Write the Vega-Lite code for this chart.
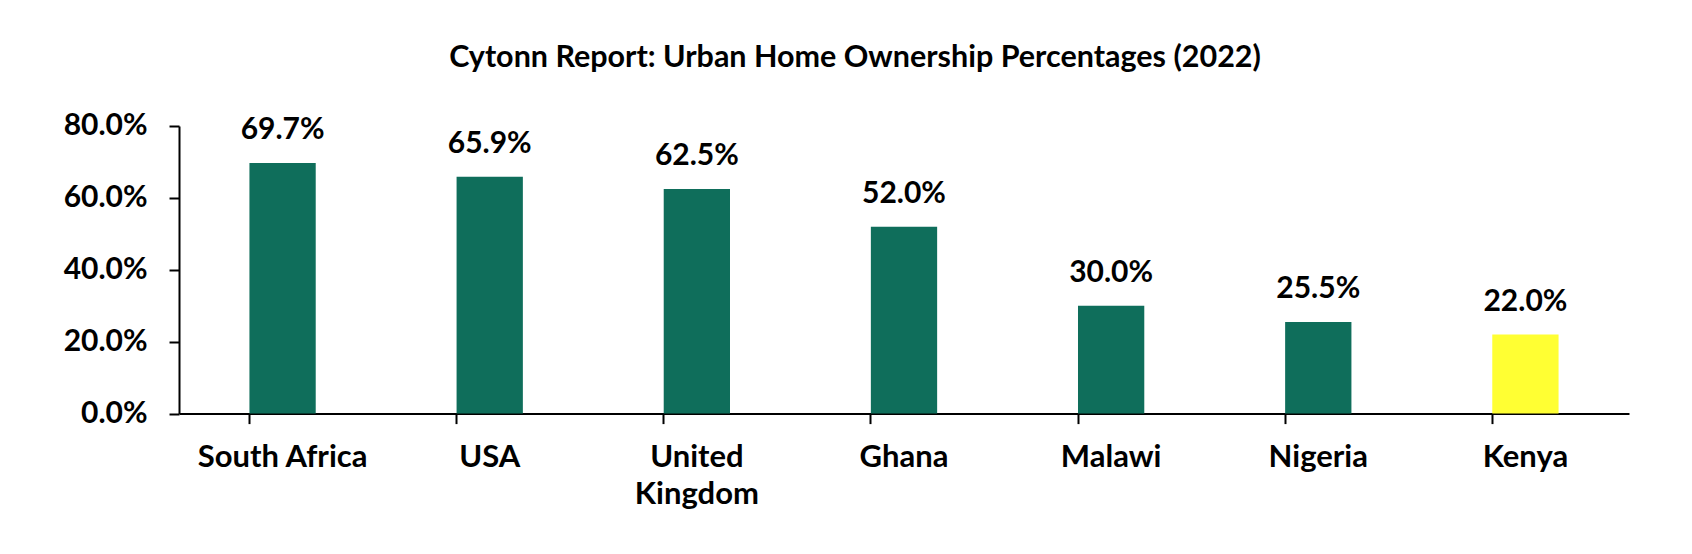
{
  "$schema": "https://vega.github.io/schema/vega-lite/v6.json",
  "width": 1450,
  "height": 287.6,
  "autosize": {"type": "none"},
  "padding": {"left": 179, "top": 126, "right": 63, "bottom": 140},
  "background": "white",
  "title": {
    "text": "Cytonn Report: Urban Home Ownership Percentages (2022)",
    "font": "Lato",
    "fontSize": 30.5,
    "fontWeight": "bold",
    "color": "black",
    "anchor": "middle",
    "frame": "group",
    "dx": -49,
    "offset": 37
  },
  "data": {
    "values": [
      {"country": "South Africa", "share": 0.697, "highlight": "no"},
      {"country": "USA", "share": 0.659, "highlight": "no"},
      {"country": "United Kingdom", "share": 0.625, "highlight": "no"},
      {"country": "Ghana", "share": 0.52, "highlight": "no"},
      {"country": "Malawi", "share": 0.30, "highlight": "no"},
      {"country": "Nigeria", "share": 0.255, "highlight": "no"},
      {"country": "Kenya", "share": 0.22, "highlight": "yes"}
    ]
  },
  "config": {
    "view": {"stroke": null},
    "axis": {
      "labelFont": "Lato",
      "labelFontWeight": "bold",
      "labelFontSize": 30,
      "labelColor": "black",
      "domainColor": "black",
      "domainWidth": 2,
      "tickColor": "black",
      "tickWidth": 2,
      "tickSize": 10,
      "grid": false,
      "title": null
    }
  },
  "encoding": {
    "x": {
      "field": "country",
      "type": "nominal",
      "sort": null,
      "scale": {"paddingInner": 0.68, "paddingOuter": 0.34},
      "axis": {
        "labelAngle": 0,
        "bandPosition": 0,
        "labelPadding": 19,
        "labelFontSize": 31,
        "labelBaseline": "top",
        "labelLineHeight": 37,
        "labelExpr": "datum.value == 'United Kingdom' ? ['United', 'Kingdom'] : datum.label"
      }
    },
    "y": {
      "field": "share",
      "type": "quantitative",
      "scale": {"domain": [0, 0.8]},
      "axis": {
        "values": [0, 0.2, 0.4, 0.6, 0.8],
        "format": ".1%",
        "labelPadding": 22
      }
    }
  },
  "layer": [
    {
      "mark": {"type": "bar"},
      "encoding": {
        "color": {
          "field": "highlight",
          "type": "nominal",
          "scale": {"domain": ["no", "yes"], "range": ["#0F6E5B", "#FFFF33"]},
          "legend": null
        }
      }
    },
    {
      "mark": {
        "type": "text",
        "font": "Lato",
        "fontWeight": "bold",
        "fontSize": 30,
        "color": "black",
        "baseline": "alphabetic",
        "dy": -24
      },
      "encoding": {
        "text": {"field": "share", "type": "quantitative", "format": ".1%"}
      }
    },
    {
      "data": {"values": [{}]},
      "mark": {"type": "rule", "color": "black", "strokeWidth": 2},
      "encoding": {
        "x": {"datum": "Kenya", "type": "nominal", "bandPosition": 1},
        "y": {"datum": 0, "type": "quantitative"},
        "y2": {"datum": -0.028}
      }
    }
  ]
}
